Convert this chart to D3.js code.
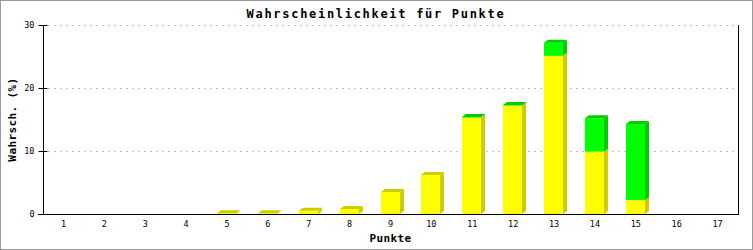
<!DOCTYPE html>
<html><head><meta charset="utf-8">
<script src="https://cdn.jsdelivr.net/npm/d3@7"></script>
<style>
html,body{margin:0;padding:0;background:#fff;}
svg{display:block;}
text{font-family:"DejaVu Sans Mono","Liberation Mono",monospace;}
</style></head>
<body>
<script>
const categories = ["1","2","3","4","5","6","7","8","9","10","11","12","13","14","15","16","17"];
const yellowValues = [0,0,0,0,0.1,0.1,0.5,0.8,3.5,6.2,15.3,17.2,25.1,9.9,2.2,0,0];
const greenValues  = [0,0,0,0,0,0,0,0,0,0,0.1,0.1,2.1,5.3,12.1,0,0];
const yTicks = [0,10,20,30];
const titleText = "Wahrscheinlichkeit für Punkte";
const xTitle = "Punkte";
const yTitle = "Wahrsch. (%)";

const W = 753, H = 250;
const svg = d3.select("body").append("svg").attr("width", W).attr("height", H);
svg.append("rect").attr("x",0.5).attr("y",0.5).attr("width",W-1).attr("height",H-1)
  .attr("fill","#fff").attr("stroke","#999").attr("stroke-width",1);

const L = 43, R = 738, T = 25, B = 214;
const x = d3.scaleBand().domain(categories).range([L, R]).paddingInner(0).paddingOuter(0);
const y = d3.scaleLinear().domain([0,30]).range([B, T]);

// grid
svg.append("g").selectAll("line").data(yTicks.filter(d=>d>0)).join("line")
  .attr("x1", L+5).attr("x2", R).attr("y1", d=>y(d)+0.5).attr("y2", d=>y(d)+0.5)
  .attr("stroke","#c0c0c0").attr("stroke-dasharray","2,4");

// y axis
const yAxis = d3.axisLeft(y).tickValues(yTicks).tickSize(5).tickPadding(4).tickFormat(d3.format("d"));
const gy = svg.append("g").attr("transform",`translate(${L+0.5},0)`).call(yAxis);
gy.select(".domain").remove();
gy.selectAll(".tick line").attr("x2",-5).attr("x1",4).attr("stroke","#000");
gy.selectAll(".tick text").attr("font-size","8.5px").attr("font-family","DejaVu Sans Mono").attr("fill","#000");
svg.append("line").attr("x1",L+0.5).attr("x2",L+0.5).attr("y1",T).attr("y2",B+1).attr("stroke","#000");
svg.append("line").attr("x1",R+0.5).attr("x2",R+0.5).attr("y1",T).attr("y2",B+1).attr("stroke","#000");

// x axis
const xAxis = d3.axisBottom(x).tickSize(0).tickPadding(6);
const gx = svg.append("g").attr("transform",`translate(0,${B+0.5})`).call(xAxis);
gx.select(".domain").remove();
gx.selectAll(".tick text").attr("font-size","8.5px").attr("font-family","DejaVu Sans Mono").attr("fill","#000");
svg.append("line").attr("x1",L-5).attr("x2",R+1).attr("y1",B+0.5).attr("y2",B+0.5).attr("stroke","#000");

// bars
const dx = 4, dy = 3, bw = 19;
const segs = [];
categories.forEach((c,i)=>{
  const y0 = yellowValues[i], g0 = greenValues[i];
  if (y0 + g0 <= 0) return;
  segs.push({c, lo:0, hi:y0, front:"#ffff00", side:"#cccc00", top: g0>0 ? null : "#cccc00"});
  if (g0 > 0) segs.push({c, lo:y0, hi:y0+g0, front:"#00ff00", side:"#00cc00", top:"#00cc00"});
});
const gb = svg.append("g");
segs.forEach(s=>{
  const cx = x(s.c) + x.bandwidth()/2;
  const x0 = Math.round(cx - 10), x1 = x0 + bw;
  const yt = y(s.hi), yb = y(s.lo);
  gb.append("rect").attr("x",x0).attr("y",yt).attr("width",bw).attr("height",Math.max(0,yb-yt)).attr("fill",s.front);
  gb.append("path").attr("d",`M${x1},${yb}L${x1+dx},${yb-dy}L${x1+dx},${yt-dy}L${x1},${yt}Z`).attr("fill",s.side);
  if (s.top) gb.append("path").attr("d",`M${x0},${yt}L${x0+dx},${yt-dy}L${x1+dx},${yt-dy}L${x1},${yt}Z`).attr("fill",s.top);
});

// titles
svg.append("text").attr("x",376).attr("y",18).attr("text-anchor","middle")
  .attr("font-size","12px").attr("font-weight","bold").attr("letter-spacing","1.7px").text(titleText);
svg.append("text").attr("x",(L+R)/2).attr("y",242).attr("text-anchor","middle")
  .attr("font-size","11px").attr("font-weight","bold").attr("letter-spacing","0.4px").text(xTitle);
svg.append("text").attr("transform",`translate(16,${(T+B)/2}) rotate(-90)`).attr("text-anchor","middle")
  .attr("font-size","11px").attr("font-weight","bold").attr("letter-spacing","0.4px").text(yTitle);
</script>
</body></html>
